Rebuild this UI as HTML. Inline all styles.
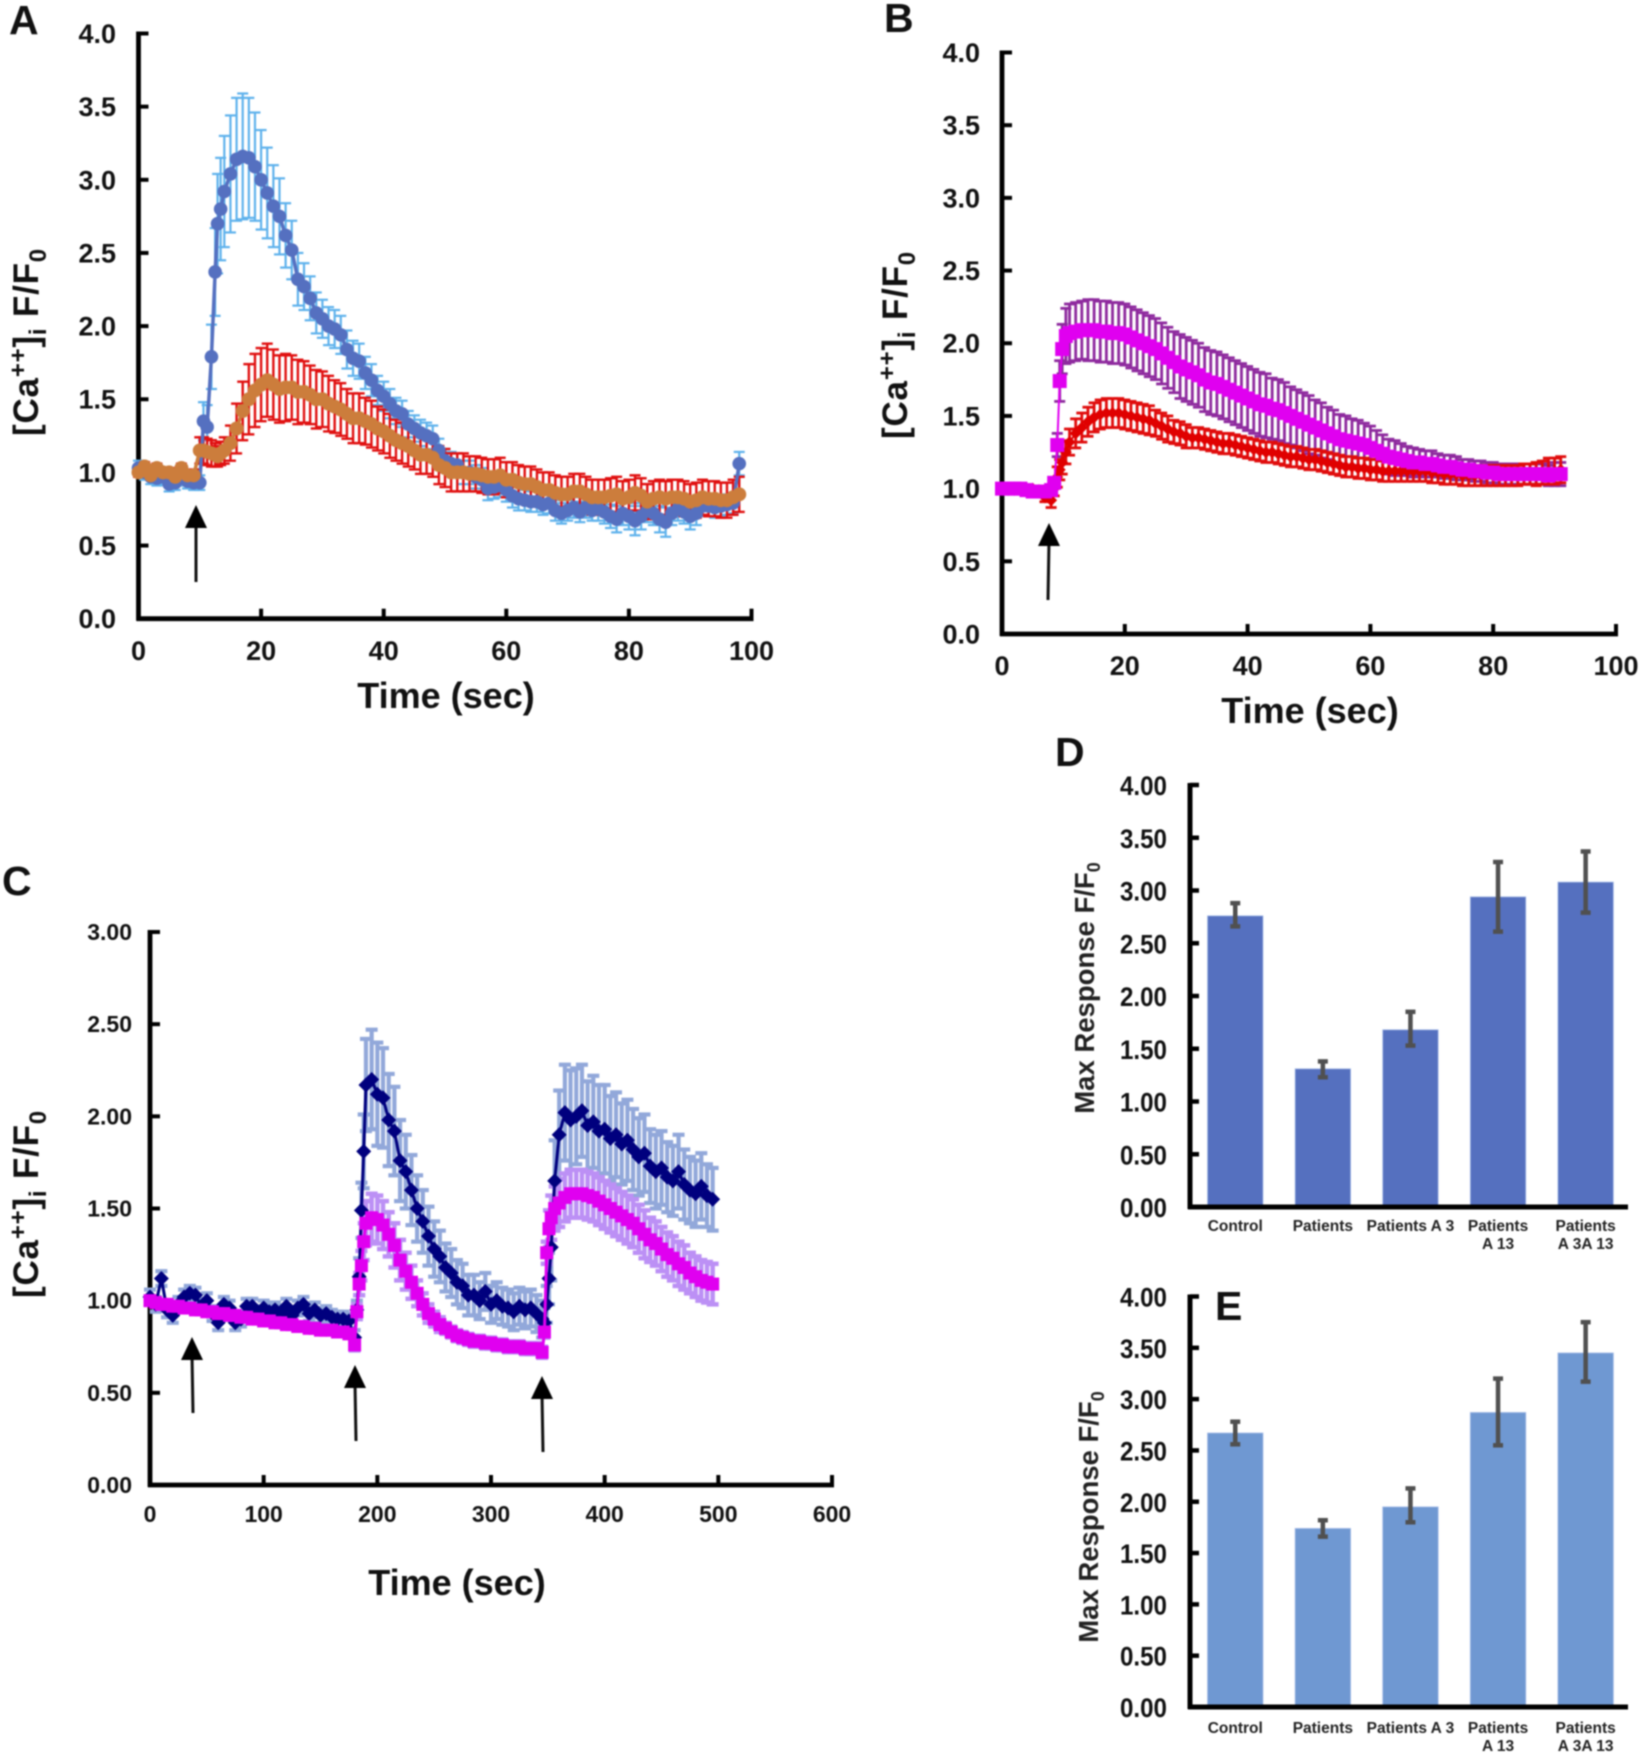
<!DOCTYPE html>
<html lang="en">
<head>
<meta charset="utf-8">
<title>Calcium response panels</title>
<style>
html,body{margin:0;padding:0;background:#fff;}
#figure{display:block;width:1644px;height:1753px;filter:blur(0.8px);font-family:"Liberation Sans",Arial,sans-serif;font-weight:bold;fill:#111;}
</style>
</head>
<body>
<svg id="figure" xmlns="http://www.w3.org/2000/svg" width="1644" height="1753" viewBox="0 0 1644 1753"></svg>
<script>
/* ---------- Panel A data ---------- */
const timeA = [0,1,2,3,4,5,6,7,8,9,10,10.6,11.2,11.9,12.5,12.9,13.4,
14,15,16,17,18,19,20,21,22,23,24,25,26,27,28,29,30,31,32,33,34,35,36,37,38,39,40,41,42,43,44,45,46,47,48,49,50,51,52,53,54,55,56,57,58,59,60,61,62,63,64,65,66,67,68,69,70,71,72,73,74,75,76,77,78,79,80,81,82,83,84,85,86,87,88,89,90,91,92,93,94,95,96,97,98];
const controlA = [1.03,1.0,.97,.96,.97,.92,.93,.96,.94,.93,.93,1.35,1.31,1.79,2.37,2.7,2.8,
2.92,3.04,3.14,3.16,3.15,3.09,3.0,2.91,2.82,2.75,
2.62,2.52,2.32,2.27,2.19,2.09,2.05,2.0,1.98,1.94,
1.84,1.78,1.76,1.68,1.63,1.56,1.52,1.47,1.42,1.4,
1.33,1.3,1.27,1.25,1.23,1.15,1.08,1.06,1.05,1.0,
1.0,.97,.95,.89,.9,.91,.88,.84,.82,.81,
.8,.8,.78,.79,.74,.72,.74,.76,.73,.76,
.74,.75,.73,.7,.68,.72,.7,.67,.7,.74,
.72,.68,.66,.72,.75,.73,.7,.72,.77,.77,
.76,.77,.78,.79,1.06];
const controlErrA = [.05,.05,.05,.05,.05,.05,.05,.05,.05,.05,.05,.13,.15,.22,.3,.34,.35,
.38,.40,.42,.43,.41,.37,.34,.31,.28,.26,
.22,.2,.18,.16,.15,.14,.13,.13,.13,.13,
.13,.12,.12,.11,.11,.1,.1,.1,.09,.09,
.09,.09,.09,.09,.09,.08,.08,.08,.08,.08,
.08,.08,.08,.08,.08,.08,.08,.08,.08,.07,
.07,.07,.07,.07,.07,.07,.07,.07,.07,.07,
.07,.08,.08,.08,.09,.08,.09,.1,.09,.08,
.08,.09,.1,.08,.08,.08,.09,.08,.07,.07,
.07,.07,.07,.07,.08];
const patientA = [1.0,1.04,.98,1.03,1.0,1.0,.97,1.03,.98,.98,1.15,1.15,1.14,1.13,1.12,1.11,1.13,
1.15,1.2,1.3,1.42,1.5,1.56,1.6,1.63,1.6,1.57,
1.58,1.58,1.55,1.55,1.53,1.5,1.5,1.47,1.45,1.43,
1.4,1.37,1.37,1.35,1.33,1.3,1.28,1.25,1.22,1.2,
1.18,1.15,1.12,1.12,1.1,1.05,1.03,1.0,1.0,1.0,
.99,.99,.98,.97,.97,.98,.95,.95,.93,.92,
.92,.9,.88,.88,.86,.85,.85,.87,.87,.85,
.83,.83,.83,.84,.85,.82,.83,.86,.84,.8,
.82,.83,.82,.83,.83,.82,.8,.81,.83,.82,
.82,.81,.81,.83,.85];
const patientErrA = [.03,.03,.03,.03,.03,.03,.03,.03,.03,.04,.09,.09,.09,.09,.08,.07,.08,
.09,.12,.17,.2,.24,.25,.25,.25,.24,.23,
.23,.22,.22,.21,.2,.2,.19,.19,.18,.18,
.17,.17,.17,.16,.16,.15,.15,.15,.14,.14,
.14,.13,.13,.13,.13,.13,.13,.13,.13,.13,
.12,.12,.12,.12,.12,.12,.12,.12,.12,.12,
.12,.12,.12,.12,.12,.12,.12,.12,.12,.12,
.12,.12,.12,.12,.12,.12,.12,.12,.12,.12,
.12,.12,.12,.12,.12,.12,.12,.12,.12,.12,
.12,.12,.12,.12,.12];
const xTicksA = [0,20,40,60,80,100];
const yTicksA = ["0.0","0.5","1.0","1.5","2.0","2.5","3.0","3.5","4.0"];

/* ---------- Panel B data ---------- */
const timeB = [0,1,2,3,4,5,6,7,8,8.5,9,9.4,9.8,10.4,
11,12,13,14,15,16,17,18,19,20,21,22,23,24,25,26,27,28,29,30,31,32,33,34,35,36,37,38,39,40,41,42,43,44,45,46,47,48,49,50,51,52,53,54,55,56,57,58,59,60,61,62,63,64,65,66,67,68,69,70,71,72,73,74,75,76,77,78,79,80,81,82,83,84,85,86,87,88,89,90,91];
const treatedB = [1,1,1,1,.99,.98,.98,.98,.99,1.04,1.3,1.74,1.96,2.05,
2.07,2.08,2.09,2.09,2.09,2.08,2.08,2.07,2.07,2.06,
2.04,2.02,2.0,1.98,1.96,1.93,1.9,1.87,1.84,1.82,
1.8,1.78,1.75,1.73,1.72,1.7,1.68,1.66,1.64,1.62,
1.6,1.58,1.57,1.55,1.54,1.52,1.5,1.48,1.46,1.44,
1.42,1.4,1.38,1.36,1.34,1.33,1.32,1.31,1.3,1.28,
1.26,1.24,1.22,1.21,1.2,1.19,1.18,1.18,1.17,1.17,
1.16,1.15,1.15,1.14,1.13,1.13,1.12,1.12,1.11,1.11,
1.1,1.1,1.1,1.1,1.1,1.1,1.1,1.1,1.09,1.1,1.1];
const treatedErrB = [.01,.01,.01,.01,.01,.01,.01,.01,.01,.03,.08,.14,.17,.19,
.2,.2,.2,.21,.21,.21,.21,.21,.21,.21,
.21,.21,.21,.21,.21,.21,.21,.21,.22,.22,
.22,.22,.22,.22,.22,.22,.22,.22,.22,.22,
.22,.22,.22,.21,.21,.21,.2,.2,.2,.2,
.19,.19,.18,.18,.17,.17,.16,.16,.15,.15,
.14,.13,.12,.12,.11,.1,.1,.09,.09,.09,
.08,.08,.08,.08,.07,.07,.07,.07,.07,.07,
.07,.07,.07,.07,.07,.07,.07,.07,.07,.08,.08];
const untreatedB = [1,1,1,1,1,1,.99,.94,.92,1.0,1.08,1.13,1.18,1.25,
1.32,1.38,1.42,1.46,1.49,1.51,1.52,1.52,1.52,1.51,
1.5,1.49,1.48,1.47,1.45,1.43,1.41,1.39,1.38,1.36,
1.35,1.35,1.34,1.33,1.32,1.31,1.31,1.3,1.29,1.28,
1.27,1.26,1.25,1.25,1.24,1.23,1.22,1.22,1.21,1.2,
1.2,1.19,1.18,1.17,1.16,1.15,1.15,1.14,1.14,1.13,
1.13,1.12,1.12,1.12,1.12,1.12,1.12,1.12,1.12,1.11,
1.11,1.1,1.1,1.1,1.09,1.09,1.09,1.09,1.09,1.09,
1.09,1.09,1.09,1.09,1.1,1.1,1.1,1.11,1.12,1.12,1.13];
const untreatedErrB = [.01,.01,.01,.01,.01,.01,.01,.03,.05,.05,.07,.07,.08,.08,
.09,.1,.1,.1,.1,.1,.1,.1,.1,.1,
.1,.1,.1,.1,.09,.09,.09,.08,.08,.08,
.07,.07,.07,.07,.07,.07,.07,.07,.07,.07,
.07,.07,.07,.07,.07,.07,.07,.07,.07,.07,
.07,.07,.07,.07,.07,.07,.07,.07,.07,.07,
.07,.07,.07,.07,.07,.07,.07,.07,.07,.07,
.07,.07,.07,.07,.07,.07,.07,.07,.07,.07,
.07,.07,.07,.07,.07,.07,.08,.08,.09,.09,.09];
const xTicksB = [0,20,40,60,80,100];
const yTicksB = ["0.0","0.5","1.0","1.5","2.0","2.5","3.0","3.5","4.0"];

/* ---------- Panel C data ---------- */
const timeC = [0,5,10,15,20,25,30,35,40,45,50,55,60,65,70,75,80,85,90,95,100,105,110,115,120,125,130,135,140,145,150,155,160,165,170,175,
180,182,184,186,188,190,
195,200,205,210,215,220,225,230,235,240,245,250,255,260,265,270,275,280,285,290,295,300,305,310,315,320,325,330,335,340,345,
347,349,351,353,356,
360,365,370,375,380,385,390,395,400,405,410,415,420,425,430,435,440,445,450,455,460,465,470,475,480,485,490,495];
const navyC = [1.02,.98,1.12,.95,.92,.98,1.02,1.04,1.03,.97,1.0,.93,.88,.98,.96,.88,.9,.97,.97,.93,.96,.94,.95,.93,.97,.92,.96,.98,.93,.95,.92,.93,.91,.9,.9,.89,
.8,.95,1.13,1.49,1.81,2.17,
2.2,2.12,2.1,1.98,1.92,1.76,1.7,1.6,1.5,1.43,1.35,1.28,1.24,1.18,1.15,1.1,1.08,1.03,1.03,1.0,1.05,.98,1.0,.97,.96,.94,.97,.95,.96,.93,.9,
.88,.98,1.12,1.29,1.65,
1.9,2.02,1.98,2.0,2.03,1.95,1.97,1.92,1.93,1.88,1.9,1.85,1.87,1.82,1.78,1.8,1.73,1.7,1.72,1.67,1.65,1.7,1.63,1.6,1.58,1.62,1.57,1.55];
const navyErrC = [.04,.04,.04,.04,.04,.04,.04,.04,.04,.04,.04,.04,.04,.04,.04,.04,.04,.04,.04,.04,.04,.04,.04,.04,.04,.04,.04,.04,.04,.04,.04,.04,.04,.04,.04,.04,
.04,.05,.1,.15,.2,.25,
.27,.28,.27,.25,.24,.22,.2,.19,.18,.17,.16,.15,.14,.13,.13,.12,.12,.11,.11,.1,.1,.1,.1,.1,.1,.1,.1,.1,.1,.1,.1,
.08,.1,.14,.18,.22,
.24,.26,.27,.26,.25,.24,.25,.25,.24,.23,.23,.22,.22,.22,.21,.21,.2,.2,.2,.19,.19,.2,.19,.18,.18,.18,.17,.17];
const magentaC = [1.0,.99,.98,.98,.97,.97,.96,.96,.95,.95,.94,.94,.93,.93,.92,.92,.91,.91,.9,.9,.89,.89,.88,.88,.87,.87,.86,.86,.85,.85,.84,.84,.84,.83,.83,.82,
.76,.94,1.09,1.19,1.32,1.42,
1.45,1.44,1.41,1.36,1.3,1.22,1.16,1.1,1.04,.98,.93,.9,.87,.85,.83,.81,.8,.79,.78,.78,.77,.77,.76,.76,.75,.75,.75,.74,.74,.74,.72,
.83,1.26,1.39,1.45,1.5,
1.53,1.56,1.58,1.58,1.58,1.57,1.56,1.54,1.52,1.5,1.48,1.46,1.44,1.42,1.39,1.36,1.33,1.31,1.28,1.25,1.23,1.2,1.18,1.15,1.13,1.11,1.1,1.09];
const magentaErrC = [.02,.02,.02,.02,.02,.02,.02,.02,.02,.02,.02,.02,.02,.02,.02,.02,.02,.02,.02,.02,.02,.02,.02,.02,.02,.02,.02,.02,.02,.02,.02,.02,.02,.02,.02,.02,
.03,.04,.06,.08,.1,.12,
.13,.13,.13,.12,.12,.11,.1,.09,.07,.06,.05,.04,.04,.03,.03,.03,.03,.03,.03,.03,.03,.03,.03,.03,.03,.03,.03,.03,.03,.03,.03,
.03,.06,.1,.12,.12,
.13,.13,.13,.13,.13,.13,.13,.13,.13,.13,.13,.13,.13,.13,.13,.13,.12,.12,.12,.12,.12,.12,.12,.11,.11,.11,.11,.11];
const xTicksC = [0,100,200,300,400,500,600];
const yTicksC = ["0.00","0.50","1.00","1.50","2.00","2.50","3.00"];

/* ---------- Panels D & E data ---------- */
const barCategories = [["Control"],["Patients"],["Patients A 3"],["Patients","A 13"],["Patients","A 3A 13"]];
const barValuesD = [2.76,1.31,1.68,2.94,3.08];
const barUpperD = [2.88,1.38,1.85,3.27,3.37];
const barLowerD = [2.66,1.23,1.53,2.61,2.79];
const barValuesE = [2.67,1.74,1.95,2.87,3.45];
const barUpperE = [2.78,1.82,2.13,3.20,3.75];
const barLowerE = [2.56,1.66,1.80,2.55,3.17];
const yTicksBar = ["0.00","0.50","1.00","1.50","2.00","2.50","3.00","3.50","4.00"];

/* ---------- Drawing ---------- */
const NS = "http://www.w3.org/2000/svg";
const root = document.getElementById("figure");

function mk(parent, tag, name, attrs) {
  const el = document.createElementNS(NS, tag);
  
  
  for (const k in attrs) el.setAttribute(k, attrs[k]);
  parent.appendChild(el);
  return el;
}
function linear(d0, d1, r0, r1) {
  return v => r0 + (v - d0) * (r1 - r0) / (d1 - d0);
}
function txt(parent, name, str, x, y, size, anchor) {
  const t = mk(parent, "text", name, {x: x, y: y, "font-size": size, "text-anchor": anchor || "middle"});
  t.textContent = str;
  return t;
}
function caTitle(parent, name, x, y) {
  const t = mk(parent, "text", name, {transform: "translate(" + x + "," + y + ") rotate(-90)", "font-size": 35, "text-anchor": "middle", "letter-spacing": 0.8});
  const parts = [["[Ca",0,35],["++",-12,24],["]",12,35],["i",8,24],[" F/F",-8,35],["0",8,24]];
  parts.forEach(p => {
    const s = document.createElementNS(NS, "tspan");
    s.setAttribute("dy", p[1]);
    s.setAttribute("font-size", p[2]);
    s.textContent = p[0];
    t.appendChild(s);
  });
}
function arrow(parent, name, xTop, yTop, xBot, yBot) {
  const g = mk(parent, "g", name, {});
  mk(g, "line", name + "-shaft", {x1: xTop, y1: yTop + 18, x2: xBot, y2: yBot, stroke: "#111", "stroke-width": 3});
  mk(g, "polygon", name + "-head", {points: [xTop, yTop, xTop - 11, yTop + 23, xTop + 11, yTop + 23].join(","), fill: "#000"});
}
function axes(g, prefix, px, xTicks, yLabels, xMax, yMax, tickSize, xLabelY, yLabelRight) {
  const sx = linear(0, xMax, px.x0, px.x1);
  const sy = linear(0, yMax, px.y0, px.y1);
  mk(g, "line", prefix + "-y-axis", {x1: px.x0, y1: px.y1 - 2, x2: px.x0, y2: px.y0 + 2, stroke: "#000", "stroke-width": 4.8});
  mk(g, "line", prefix + "-x-axis", {x1: px.x0 - 2, y1: px.y0, x2: px.x1 + 2, y2: px.y0, stroke: "#000", "stroke-width": 4.8});
  yLabels.forEach((lab, i) => {
    const v = i * yMax / (yLabels.length - 1);
    mk(g, "line", prefix + "-y-tick", {x1: px.x0, y1: sy(v), x2: px.x0 + 10, y2: sy(v), stroke: "#000", "stroke-width": 4});
    txt(g, prefix + "-y-tick-label", lab, yLabelRight, sy(v) + tickSize * 0.35, tickSize, "end");
  });
  xTicks.forEach(v => {
    if (v > 0) mk(g, "line", prefix + "-x-tick", {x1: sx(v), y1: px.y0, x2: sx(v), y2: px.y0 - 10, stroke: "#000", "stroke-width": 4});
    txt(g, prefix + "-x-tick-label", String(v), sx(v), xLabelY, tickSize);
  });
  return {sx: sx, sy: sy};
}
function errorBars(g, name, times, vals, errs, sc, color, cap, width) {
  const eg = mk(g, "g", name, {stroke: color, "stroke-width": width, fill: "none"});
  times.forEach((t, i) => {
    const e = errs[i];
    const x = sc.sx(t), y1 = sc.sy(vals[i] - e), y2 = sc.sy(vals[i] + e);
    mk(eg, "line", name + "-stem", {x1: x, y1: y1, x2: x, y2: y2});
    mk(eg, "line", name + "-cap-low", {x1: x - cap, y1: y1, x2: x + cap, y2: y1});
    mk(eg, "line", name + "-cap-high", {x1: x - cap, y1: y2, x2: x + cap, y2: y2});
  });
}
function series(g, name, times, vals, sc, color, lineW, shape, size) {
  const sg = mk(g, "g", name, {fill: color});
  mk(sg, "polyline", name + "-line", {points: times.map((t, i) => sc.sx(t) + "," + sc.sy(vals[i])).join(" "), fill: "none", stroke: color, "stroke-width": lineW});
  times.forEach((t, i) => {
    const x = sc.sx(t), y = sc.sy(vals[i]);
    if (shape === "circle") mk(sg, "circle", name + "-point", {cx: x, cy: y, r: size});
    else if (shape === "square") mk(sg, "rect", name + "-point", {x: x - size, y: y - size, width: 2 * size, height: 2 * size});
    else mk(sg, "polygon", name + "-point", {points: [x, y - size, x + size, y, x, y + size, x - size, y].join(",")});
  });
}

/* Panel A */
(function () {
  const g = mk(root, "g", "panel-a", {});
  txt(g, "panel-a-letter", "A", 9, 34, 41, "start");
  const sc = axes(g, "panel-a", {x0: 138.5, x1: 751.5, y0: 618.7, y1: 33.5}, xTicksA, yTicksA, 100, 4, 27, 660, 116);
  errorBars(g, "a-control-error", timeA, controlA, controlErrA, sc, "#5FB2EC", 5.5, 2.2);
  errorBars(g, "a-patient-error", timeA, patientA, patientErrA, sc, "#E01010", 5.5, 2.4);
  series(g, "a-control-series", timeA, controlA, sc, "#5570C0", 3.5, "circle", 6.8);
  series(g, "a-patient-series", timeA, patientA, sc, "#CC7D3C", 3.5, "circle", 7);
  arrow(g, "a-stimulus-arrow", 196, 505, 196, 582);
  caTitle(g, "a-y-axis-title", 38, 342);
  txt(g, "a-x-axis-title", "Time (sec)", 446, 708, 36);
})();

/* Panel B */
(function () {
  const g = mk(root, "g", "panel-b", {});
  txt(g, "panel-b-letter", "B", 884, 32, 41, "start");
  const sc = axes(g, "panel-b", {x0: 1002, x1: 1616, y0: 634, y1: 52.5}, xTicksB, yTicksB, 100, 4, 27, 675, 980);
  errorBars(g, "b-treated-error", timeB, treatedB, treatedErrB, sc, "#8E2A9E", 5.5, 2.8);
  errorBars(g, "b-untreated-error", timeB, untreatedB, untreatedErrB, sc, "#E00C0C", 5.5, 2.8);
  series(g, "b-untreated-series", timeB, untreatedB, sc, "#E00000", 2, "diamond", 6);
  series(g, "b-treated-series", timeB, treatedB, sc, "#E000F0", 2, "square", 7);
  arrow(g, "b-stimulus-arrow", 1049, 523, 1048, 600);
  caTitle(g, "b-y-axis-title", 907, 345);
  txt(g, "b-x-axis-title", "Time (sec)", 1310, 723, 36);
})();

/* Panel C */
(function () {
  const g = mk(root, "g", "panel-c", {});
  txt(g, "panel-c-letter", "C", 2, 895, 41, "start");
  const sc = axes(g, "panel-c", {x0: 150, x1: 832, y0: 1485, y1: 932}, xTicksC, yTicksC, 600, 3, 23, 1522, 132);
  errorBars(g, "c-navy-error", timeC, navyC, navyErrC, sc, "#92A8DA", 6, 4.2);
  errorBars(g, "c-magenta-error", timeC, magentaC, magentaErrC, sc, "#BC90F5", 6, 4.5);
  series(g, "c-navy-series", timeC, navyC, sc, "#00007E", 3, "diamond", 7.5);
  series(g, "c-magenta-series", timeC, magentaC, sc, "#E000F0", 3, "square", 6.5);
  arrow(g, "c-arrow-1", 192, 1337, 193, 1413);
  arrow(g, "c-arrow-2", 355, 1365, 356, 1441);
  arrow(g, "c-arrow-3", 542, 1376, 543, 1452);
  caTitle(g, "c-y-axis-title", 38, 1204);
  txt(g, "c-x-axis-title", "Time (sec)", 457, 1595, 36);
})();

/* Panels D & E */
function barPanel(id, letter, lx, ly, y0, y1, vals, upper, lower, color, titleX, titleY, catY) {
  const g = mk(root, "g", "panel-" + id, {});
  txt(g, "panel-" + id + "-letter", letter, lx, ly, 41, "start");
  const x0 = 1190, x1 = 1628;
  const sy = linear(0, 4, y0, y1);
  const band = linear(0, 5, 1207.5, 1207.5 + 5 * 87.6);
  vals.forEach((v, i) => {
    mk(g, "rect", "panel-" + id + "-bar", {x: band(i), y: sy(v), width: 55.5, height: y0 - sy(v), fill: color, stroke: "#A9BEE8", "stroke-width": 0.8});
  });
  mk(g, "line", "panel-" + id + "-y-axis", {x1: x0, y1: y1 - 2, x2: x0, y2: y0 + 2, stroke: "#000", "stroke-width": 5});
  mk(g, "line", "panel-" + id + "-x-axis", {x1: x0 - 2, y1: y0, x2: x1, y2: y0, stroke: "#000", "stroke-width": 5});
  yTicksBar.forEach((lab, i) => {
    const v = i * 0.5;
    mk(g, "line", "panel-" + id + "-y-tick", {x1: x0, y1: sy(v), x2: x0 + 9, y2: sy(v), stroke: "#000", "stroke-width": 4.5});
    const t = txt(g, "panel-" + id + "-y-tick-label", lab, 1167, sy(v) + 10, 27, "end");
    t.setAttribute("textLength", "47");
    t.setAttribute("lengthAdjust", "spacingAndGlyphs");
  });
  vals.forEach((v, i) => {
    const cx = band(i) + 27.75;
    const hi = sy(upper[i]), lo = sy(lower[i]);
    mk(g, "line", "panel-" + id + "-error-stem", {x1: cx, y1: hi, x2: cx, y2: lo, stroke: "#505050", "stroke-width": 4.5});
    mk(g, "line", "panel-" + id + "-error-cap", {x1: cx - 5, y1: hi, x2: cx + 5, y2: hi, stroke: "#505050", "stroke-width": 4.5});
    mk(g, "line", "panel-" + id + "-error-cap", {x1: cx - 5, y1: lo, x2: cx + 5, y2: lo, stroke: "#505050", "stroke-width": 4.5});
    barCategories[i].forEach((line, j) => {
      const t = txt(g, "panel-" + id + "-category-label", line, cx, catY + j * 18, 15.5);
      t.setAttribute("fill", "#222");
    });
  });
  const title = mk(g, "text", "panel-" + id + "-y-axis-title", {transform: "translate(" + titleX + "," + titleY + ") rotate(-90)", "font-size": 27.5, "text-anchor": "middle", fill: "#222"});
  [["Max Response F/F",0,27.5],["0",6,18]].forEach(p => {
    const s = document.createElementNS(NS, "tspan");
    s.setAttribute("dy", p[1]);
    s.setAttribute("font-size", p[2]);
    s.textContent = p[0];
    title.appendChild(s);
  });
}
barPanel("d", "D", 1055, 766, 1207, 785, barValuesD, barUpperD, barLowerD, "#5570BF", 1094, 988, 1231);
barPanel("e", "E", 1215, 1320, 1707, 1296.5, barValuesE, barUpperE, barLowerE, "#6F98D2", 1098, 1517, 1733);
</script>
</body>
</html>
